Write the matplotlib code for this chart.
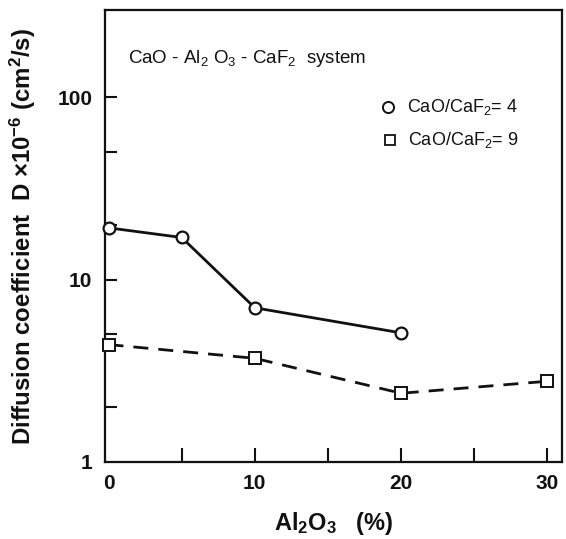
import matplotlib
matplotlib.use("Agg")
import matplotlib.pyplot as plt
from matplotlib.ticker import FixedLocator, NullFormatter

plt.rcParams['font.family'] = ['Liberation Sans', 'DejaVu Sans']
plt.rcParams['mathtext.fontset'] = 'custom'
plt.rcParams['mathtext.rm'] = 'Liberation Sans'
plt.rcParams['mathtext.it'] = 'Liberation Sans'
plt.rcParams['mathtext.bf'] = 'Liberation Sans:bold'

# data
x_ratio4 = [0, 5, 10, 20]
d_ratio4 = [19.2, 17.0, 7.0, 5.1]
x_ratio9 = [0, 10, 20, 30]
d_ratio9 = [4.4, 3.7, 2.38, 2.77]
xticks_major = [0, 10, 20, 30]
xticks_minor = [5, 15, 25]
yticks_major = [1, 10, 100]
yticks_minor = [2, 5, 20, 50]

fig = plt.figure(figsize=(5.66, 5.39), dpi=100)
ax = fig.add_axes([0.1855, 0.1429, 0.8075, 0.8385])

ax.plot(x_ratio4, d_ratio4, color='#111111', lw=2.0, marker='o', ms=8.5,
        mfc='white', mec='#111111', mew=1.6, clip_on=False, zorder=3)
ax.plot(x_ratio9, d_ratio9, color='#111111', lw=2.0, ls=(0, (5.4, 3.6)), marker='s', ms=8,
        mfc='white', mec='#111111', mew=1.4, clip_on=False, zorder=3)

ax.set_yscale('log')
ax.set_xlim(-0.24, 31.0)
ax.set_ylim(1, 300)

ax.xaxis.set_major_locator(FixedLocator(xticks_major))
ax.xaxis.set_minor_locator(FixedLocator(xticks_minor))
ax.yaxis.set_major_locator(FixedLocator(yticks_major))
ax.yaxis.set_minor_locator(FixedLocator(yticks_minor))
ax.yaxis.set_minor_formatter(NullFormatter())
ax.set_xticklabels([str(v) for v in xticks_major])
ax.set_yticklabels([str(v) for v in yticks_major])

ax.tick_params(axis='both', which='both', direction='in', width=1.5,
               color='#111111', labelsize=15, labelcolor='#111111')
ax.tick_params(axis='x', which='both', top=False, pad=9, length=10)
ax.tick_params(axis='y', which='both', right=False, pad=9, length=8.5)
for lab in ax.get_xticklabels() + ax.get_yticklabels():
    lab.set_fontweight('bold')
ax.xaxis.get_major_ticks()[0].tick1line.set_visible(False)
ax.yaxis.get_major_ticks()[0].tick1line.set_visible(False)

for s in ax.spines.values():
    s.set_linewidth(1.6)
    s.set_color('#111111')

ax.set_xlabel(r'Al$_\mathbf{2}$O$_\mathbf{3}$   (%)', fontsize=17, fontweight='bold',
              color='#111111', labelpad=12)
ax.set_ylabel(r'Diffusion coefficient  D $\mathbf{\times}$10$^\mathbf{-6}$ (cm$^\mathbf{2}$/s)',
              fontsize=17.3, fontweight='bold', color='#111111')
ax.yaxis.set_label_coords(-0.146, 0.5)

ax.text(0.05, 0.893, r'CaO - Al$_2$ O$_3$ - CaF$_2$  system', transform=ax.transAxes,
        fontsize=13.5, color='#111111', va='center', ha='left')

# legend drawn manually
ax.plot([0.620], [0.786], transform=ax.transAxes, marker='o', ms=8, mfc='white',
        mec='#111111', mew=1.4, ls='none')
ax.text(0.660, 0.786, r'CaO/CaF$_2$= 4', transform=ax.transAxes, fontsize=13,
        color='#111111', va='center', ha='left')
ax.plot([0.624], [0.712], transform=ax.transAxes, marker='s', ms=7.5, mfc='white',
        mec='#111111', mew=1.3, ls='none')
ax.text(0.664, 0.712, r'CaO/CaF$_2$= 9', transform=ax.transAxes, fontsize=13,
        color='#111111', va='center', ha='left')

fig.savefig('out.png', dpi=100)
